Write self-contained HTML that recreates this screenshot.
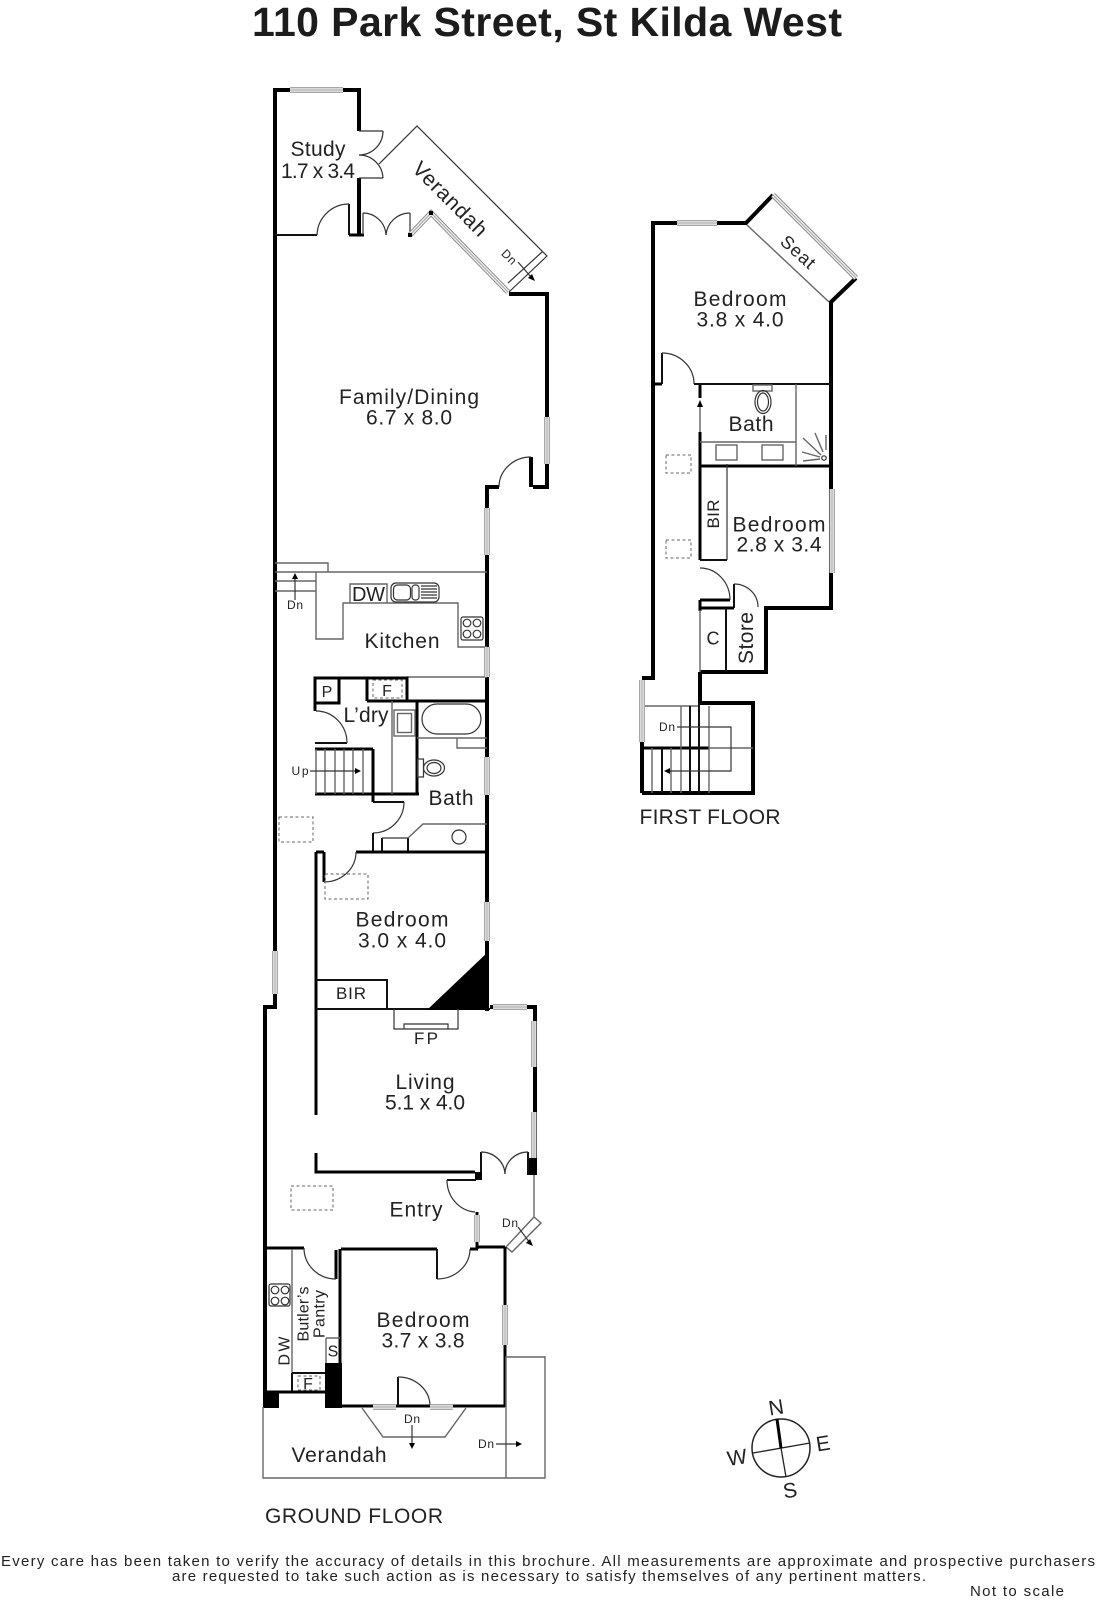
<!DOCTYPE html>
<html lang="en"><head><meta charset="utf-8"><title>110 Park Street, St Kilda West</title>
<style>
html,body{margin:0;padding:0;background:#fff;width:1096px;height:1600px;overflow:hidden}
svg{display:block}
text{font-family:"Liberation Sans",sans-serif;fill:#222;text-anchor:middle}
.l{font-size:21px}.s{font-size:16px}.d{font-size:12px}.f{font-size:15px}
path,rect,circle,ellipse,line{fill:none}
.t4{stroke:#000;stroke-width:4}.t3{stroke:#000;stroke-width:3}.t2{stroke:#111;stroke-width:2}
.g{stroke:#666;stroke-width:1.4}.k{stroke:#333;stroke-width:1.2}
.da{stroke:#666;stroke-width:1;stroke-dasharray:3 2.5}
</style></head><body>
<svg xmlns="http://www.w3.org/2000/svg" width="1096" height="1600" viewBox="0 0 1096 1600">
<rect x="0" y="0" width="1096" height="1600" style="fill:#fff"/>
<text x="547" y="36" font-size="41" font-weight="bold" textLength="590" style="fill:#1c1c1c">110 Park Street, St Kilda West</text>

<!-- GROUND FLOOR walls -->
<path class="t4" d="M359,131V90H275V1007H265V1407M359,178V235M509,294H547V487H533M531,487V457M499,487H487V1011"/>
<path class="t2" d="M275,235H317M349,204V235"/>
<path class="t3" d="M349,235H364"/>
<path class="k" d="M383,131H359M383,178H359M363,213V235M410,213V235"/>
<path class="k" d="M383,131A24,24 0 0 1 359,155A24,24 0 0 1 383,178M317,235A32,32 0 0 1 349,204M363,213A23,23 0 0 1 386,235A24,24 0 0 1 410,213M499,487A32,30 0 0 1 531,457"/>
<path class="k" d="M379,164L417,126L547,256L509,292M542,252L508,283M518,262L531,277"/>
<path style="fill:#000" d="M535,281L528,278L532,274Z"/>

<!-- Kitchen -->
<path class="g" d="M275,563H328V572M275,572H487M275,581H316M275,591H316M316,572V639H343V603H458V647H487M350,603V584H387V603M407,677H487"/>
<path class="k" d="M295,600V577"/>
<path style="fill:#000" d="M295,573L298,579H292Z"/>
<rect class="k" x="391" y="583" width="48" height="19" rx="5"/>
<rect class="k" x="393.500" y="585" width="17" height="15" rx="4"/><rect class="k" x="412" y="585" width="7" height="15" rx="3"/>
<path class="k" d="M421,586H437M421,589H437M421,592H437M421,595H437M421,598H437"/>
<rect class="k" x="461" y="617" width="22" height="23" rx="2"/>
<circle class="k" cx="467" cy="623" r="3.800"/><circle class="k" cx="477" cy="623" r="3.800"/><circle class="k" cx="467" cy="634" r="3.800"/><circle class="k" cx="477" cy="634" r="3.800"/>

<!-- Laundry / Bath -->
<path class="t3" d="M315,711V678H407V701M339,678V703H315M367,678V701M367,701H487M417,701V795M373,749V796M315,749H373M315,794H419M373,794V802"/>
<path class="t2" d="M373,802H404M315,743H347"/>
<path class="g" d="M392,701V794M316,749V794M325,749V794M335,749V794M344,749V794M353,749V794M363,749V794"/>
<path class="k" d="M316,711A31,32 0 0 1 347,743M404,802A31,31 0 0 1 373,833M310,771H357"/>
<path style="fill:#000" d="M361,771L355,768V774Z"/>
<rect class="da" x="373" y="680" width="29" height="18"/>
<rect class="g" x="394" y="710" width="21" height="26"/><rect class="g" x="397.500" y="713.500" width="14" height="19"/>
<rect class="k" x="422" y="704" width="59" height="30" rx="15"/>
<path class="g" d="M417,738H487M457,738V748H487"/>
<rect class="k" x="417.500" y="759" width="6" height="18"/><ellipse class="k" cx="434" cy="768" rx="10.500" ry="8"/><ellipse class="k" cx="434" cy="768" rx="7" ry="5.500"/>
<path class="t2" d="M373,833V852M382,838V852M408,838V852"/>
<path class="k" d="M382,838H408"/>
<path class="g" d="M408,838L423,824H487"/>
<circle class="k" cx="459" cy="837" r="7"/>
<path class="t3" d="M356,852H487"/>
<rect class="da" x="279" y="817" width="34" height="25"/>

<!-- Bedroom 3.0 -->
<path class="t3" d="M316,852V1115M316,1153V1172H475M324,852V882M316,852H324"/>
<path class="k" d="M324,882A32,30 0 0 0 356,852"/>
<rect class="da" x="325" y="874" width="43" height="25"/>
<path class="t2" d="M316,1009H490M316,980H387V1009"/>
<path style="fill:#000" d="M489,951V1010H427Z"/>
<path class="k" d="M394,1009V1029H458V1009M404,1029V1024H448V1029"/>
<!-- Living -->
<path class="t4" d="M490,1007H535V1175"/>
<path style="fill:#000" d="M475,1172H482V1180H475Z"/>
<path class="t2" d="M447,1180H476M481,1152V1172M528,1152V1175"/>
<path style="fill:#000" d="M529,1158H535V1175H529Z"/>
<path class="k" d="M481,1152A24,23 0 0 1 505,1174A23,22 0 0 1 528,1152M447,1180A30,32 0 0 0 475,1212"/>
<path class="g" d="M534,1175V1217M534,1217L541,1223L512,1252L506,1247Z"/>
<path class="k" d="M518,1227L530,1243"/><path style="fill:#000" d="M533,1246L526,1243L530,1239Z"/>
<!-- Entry -->
<rect class="da" x="291" y="1186" width="42" height="24"/>
<path class="t3" d="M477,1212V1249M477,1247H505M505,1247V1407M265,1248H304M336,1250V1279M341,1249H437M470,1249H478M340,1249V1407M340,1406H505"/>
<path class="t2" d="M437,1249V1279M398,1377V1406"/>
<path class="k" d="M304,1248A32,31 0 0 0 336,1279M437,1279A33,30 0 0 0 470,1249M398,1377A32,29 0 0 1 430,1406"/>
<!-- Pantry -->
<path class="g" d="M292,1249V1373M292,1373H325M326,1338H340M326,1338V1363"/>
<path class="t2" d="M292,1373H325M292,1373V1392"/>
<path class="t3" d="M265,1392H326"/>
<path style="fill:#000" d="M263,1392H279V1408H263ZM325,1363H342V1408H325Z"/>
<rect class="da" x="298" y="1376" width="22" height="14"/>
<rect class="k" x="269" y="1284" width="21" height="22" rx="2"/>
<circle class="k" cx="275" cy="1290" r="3.800"/><circle class="k" cx="285" cy="1290" r="3.800"/><circle class="k" cx="275" cy="1301" r="3.800"/><circle class="k" cx="285" cy="1301" r="3.800"/>
<!-- Verandah -->
<path class="g" d="M263,1407V1478H545V1357H506V1478M362,1408L383,1437H445L466,1408"/>
<path class="k" d="M412,1425V1445M496,1444H518"/>
<path style="fill:#000" d="M412,1449L409,1443H415ZM522,1444L516,1441V1447Z"/>

<!-- FIRST FLOOR -->
<path class="t4" d="M642,793V742M642,678H653V223H746L773,195M856,278L831,302V608H766V672H700M700,672V703M642,793H753V703H698"/>
<path class="t3" d="M653,384H662M700,384V398M700,432V560M700,466H832M700,600V611M700,608H734M700,600H730M642,748H709"/>
<path class="t2" d="M694,384H832M662,353V384M700,560H727M726,608V672M734,584V608"/>
<path class="k" d="M727,464V560M662,353A32,31 0 0 1 694,384M700,568A30,32 0 0 1 730,600M734,584A24,23 0 0 1 758,607"/>
<path class="g" d="M747,225L829,302M796,384V466M700,442H796M700,407V432M700,610V672"/>
<path style="fill:#000" d="M700,400L703,407H697Z"/>
<rect class="g" x="716" y="445" width="21" height="15"/><rect class="g" x="762" y="445" width="21" height="15"/>
<rect class="g" x="753" y="385" width="19" height="6"/><ellipse class="k" cx="763" cy="402" rx="8" ry="11.500"/><ellipse class="k" cx="763" cy="402" rx="5.500" ry="9"/>
<circle class="k" cx="824" cy="458" r="2.200"/>
<path class="g" d="M821,455L803,438M823,452L815,433M826,450V435M820,457L802,452M820,459L803,461"/>
<rect class="da" x="666" y="455" width="25" height="18"/><rect class="da" x="666" y="540" width="25" height="18"/>
<!-- first floor stairs -->
<path class="g" d="M645,706H700M652,748V793M671,748V793M681,706V793M709,706V793M709,748H753"/>
<path class="t2" d="M662,748V793M690,706V793M699,703V793"/>
<path class="k" d="M677,727H731V771H669"/>
<path style="fill:#000" d="M664,771L670,768V774Z"/>

<!-- WINDOWS -->
<defs><path id="win" d="M290,90H343M547,417V464M487,508V555M487,647V677M487,757V795M487,902V941M275,951V994M493,1007H527M534,1021V1067M534,1112V1158M477,1215V1242M505,1305V1345M373,1407H396M430,1407H453M677,223H717M832,489V573M642,680V742M410,235L431,213L508,292M773,195L856,278"/></defs>
<use href="#win" style="fill:none;stroke:#8a8a8a;stroke-width:5.500"/>
<use href="#win" style="fill:none;stroke:#f4f4f4;stroke-width:3.500"/>
<use href="#win" style="fill:none;stroke:#aaa;stroke-width:1.200"/>
<path style="fill:#000" d="M408,233H412V237H408ZM429,211H433V215H429Z"/>

<!-- LABELS -->
<text class="l" x="318" y="156" textLength="55">Study</text>
<text class="l" x="318" y="178" textLength="74">1.7 x 3.4</text>
<text class="l" transform="translate(450,199) rotate(45)" y="7" textLength="96">Verandah</text>
<text class="d" transform="translate(509,257) rotate(45)" y="4" textLength="16">Dn</text>
<text class="l" x="409" y="404" textLength="140">Family/Dining</text>
<text class="l" x="409" y="424.500" textLength="86">6.7 x 8.0</text>
<text class="d" x="295" y="609" textLength="16">Dn</text>
<text class="l" x="368.500" y="601" textLength="33" style="font-size:20px">DW</text>
<text class="l" x="402" y="648" textLength="75">Kitchen</text>
<text class="s" x="327" y="697" textLength="12">P</text>
<text class="s" x="387" y="696" textLength="11">F</text>
<text class="l" x="366" y="722" textLength="45">L’dry</text>
<text class="d" x="300" y="775" textLength="17">Up</text>
<text class="l" x="451" y="805" textLength="45">Bath</text>
<text class="l" x="402" y="926.500" textLength="93">Bedroom</text>
<text class="l" x="402" y="947.500" textLength="88">3.0 x 4.0</text>
<text class="s" x="351" y="999" textLength="30" style="font-size:17px">BIR</text>
<text class="s" x="426" y="1044" textLength="24" style="font-size:17px">FP</text>
<text class="l" x="425" y="1089" textLength="59">Living</text>
<text class="l" x="425" y="1109.500" textLength="80">5.1 x 4.0</text>
<text class="l" x="416" y="1216.500" textLength="53">Entry</text>
<text class="d" x="510" y="1227" textLength="16">Dn</text>
<text class="l" x="423" y="1327" textLength="93">Bedroom</text>
<text class="l" x="423" y="1347.500" textLength="83">3.7 x 3.8</text>
<text class="s" transform="translate(303,1314) rotate(-90)" y="5.500" textLength="55">Butler’s</text>
<text class="s" transform="translate(319,1314) rotate(-90)" y="5.500" textLength="48">Pantry</text>
<text class="s" transform="translate(284,1351) rotate(-90)" y="5.500" textLength="29">DW</text>
<text class="s" x="333" y="1356.500">S</text>
<text class="s" x="308" y="1389" textLength="10">F</text>
<text class="d" x="412" y="1423" textLength="16">Dn</text>
<text class="d" x="486" y="1448" textLength="16">Dn</text>
<text class="l" x="339" y="1462" textLength="95">Verandah</text>
<text class="l" x="354" y="1523" textLength="178">GROUND FLOOR</text>

<text class="l" x="740" y="306" textLength="93">Bedroom</text>
<text class="l" x="740" y="326.500" textLength="87">3.8 x 4.0</text>
<text class="s" transform="translate(798,252) rotate(42)" y="6" textLength="40" style="font-size:18px">Seat</text>
<text class="l" x="751" y="431" textLength="45">Bath</text>
<text class="s" transform="translate(713,514) rotate(-90)" y="6" textLength="29" style="font-size:17px">BIR</text>
<text class="l" x="779" y="531.500" textLength="93">Bedroom</text>
<text class="l" x="779" y="551.500" textLength="85">2.8 x 3.4</text>
<text class="s" x="713" y="644.500" style="font-size:18px">C</text>
<text class="l" transform="translate(746,638) rotate(-90)" y="7" textLength="52">Store</text>
<text class="d" x="667" y="731" textLength="16">Dn</text>
<text class="l" x="710" y="824" textLength="141">FIRST FLOOR</text>

<!-- compass -->
<circle cx="781" cy="1448" r="29" style="stroke:#222;stroke-width:1.500"/>
<path style="stroke:#222;stroke-width:1.300" d="M781,1448L786,1477M753,1453L810,1443"/>
<path style="stroke:#000;stroke-width:3" d="M777,1419L781,1448"/>
<text class="l" transform="translate(776,1407) rotate(-9)" y="7.500">N</text>
<text class="l" transform="translate(823,1443) rotate(-9)" y="7.500">E</text>
<text class="l" transform="translate(790,1490) rotate(-9)" y="7.500">S</text>
<text class="l" transform="translate(737,1457) rotate(-9)" y="7.500">W</text>

<!-- footer -->
<text class="f" x="548" y="1566" textLength="1094">Every care has been taken to verify the accuracy of details in this brochure.  All measurements are approximate and prospective purchasers</text>
<text class="f" x="549" y="1581" textLength="754">are requested to take such action as is necessary to satisfy themselves of any pertinent matters.</text>
<text class="f" x="1017" y="1596" textLength="94">Not to scale</text>
</svg>
</body></html>
